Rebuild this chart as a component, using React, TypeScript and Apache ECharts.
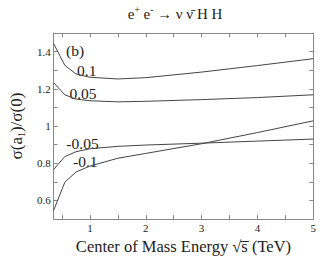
import React, { useEffect, useRef } from "react";
import * as echarts from "echarts";

const energies = [0.35, 0.55, 0.75, 1, 1.5, 2, 3, 4, 5];
const ratioP010 = [1.443, 1.326, 1.28, 1.262, 1.253, 1.26, 1.29, 1.325, 1.362];
const ratioP005 = [1.233, 1.168, 1.145, 1.136, 1.13, 1.133, 1.142, 1.153, 1.168];
const ratioM005 = [0.767, 0.836, 0.862, 0.878, 0.891, 0.898, 0.908, 0.919, 0.93];
const ratioM010 = [0.547, 0.698, 0.753, 0.785, 0.827, 0.853, 0.905, 0.965, 1.028];
const curveLabels = ["0.1", "0.05", "-0.05", "-0.1", "(b)"];
const labelCoords: [number, number][] = [
  [0.942, 1.296],
  [0.875, 1.175],
  [0.867, 0.905],
  [0.917, 0.807],
  [0.733, 1.407],
];
const yLabelValues = [0.6, 0.8, 1, 1.2, 1.4];
const xLabelValues = [1, 2, 3, 4, 5];

const SERIF = "Liberation Serif";
const LINE = "#444";
const FRAME = "#888";
const TEXT = "#222";

export default function App() {
  const ref = useRef<HTMLDivElement>(null);
  useEffect(() => {
    if (!ref.current) return;
    const chart = echarts.init(ref.current, undefined, { renderer: "svg" });
    const allSeries = [ratioP010, ratioP005, ratioM005, ratioM010];
    const series: any[] = allSeries.map((vals) => ({
      type: "line",
      data: energies.map((e, j) => [e, vals[j]]),
      showSymbol: false,
      symbol: "none",
      lineStyle: { color: LINE, width: 1 },
      silent: true,
    }));
    const xBase = {
      type: "value",
      min: 0.35,
      max: 5,
      minInterval: 0.5,
      maxInterval: 0.5,
      splitLine: { show: false },
      axisLine: { show: true, onZero: false, lineStyle: { color: FRAME, width: 1 } },
      axisTick: { show: true, inside: true, length: 4, lineStyle: { color: FRAME } },
    };
    const yBase = {
      type: "value",
      min: 0.5,
      max: 1.5,
      interval: 0.1,
      splitLine: { show: false },
      axisLine: { show: true, onZero: false, lineStyle: { color: FRAME, width: 1 } },
      axisTick: { show: true, inside: true, length: 4, lineStyle: { color: FRAME } },
    };
    chart.setOption({
      animation: false,
      textStyle: { fontFamily: SERIF },
      grid: { left: 36, right: 4, top: 33, bottom: 33, containLabel: false },
      xAxis: [
        {
          ...xBase,
          position: "bottom",
          name: "Center of Mass Energy \u221as\u0305 (TeV)",
          nameLocation: "middle",
          nameGap: 13,
          nameTextStyle: { fontFamily: SERIF, fontSize: 16.5, color: TEXT },
          axisLabel: {
            show: true,
            margin: 3,
            fontFamily: SERIF,
            fontSize: 11,
            color: TEXT,
            formatter: (v: number) => {
              const r = parseFloat(v.toFixed(2));
              return xLabelValues.includes(r) ? String(r) : "";
            },
          },
        },
        { ...xBase, position: "top", axisLabel: { show: false } },
      ],
      yAxis: [
        {
          ...yBase,
          position: "left",
          name: "{a|\u03c3(a}{s|1}{a|)/\u03c3(0)}",
          nameLocation: "middle",
          nameGap: 23,
          nameTextStyle: {
            fontFamily: SERIF,
            fontSize: 17,
            color: TEXT,
            rich: {
              a: { fontFamily: SERIF, fontSize: 17, color: TEXT },
              s: { fontFamily: SERIF, fontSize: 10, color: TEXT, padding: [9, 0, 0, 0] },
            },
          },
          axisLabel: {
            show: true,
            margin: 3,
            fontFamily: SERIF,
            fontSize: 11,
            color: TEXT,
            formatter: (v: number) => {
              const r = parseFloat(v.toFixed(2));
              return yLabelValues.includes(r) ? String(r) : "";
            },
          },
        },
        { ...yBase, position: "right", axisLabel: { show: false } },
      ],
      series,
    });
    const labelGraphics = curveLabels.map((t, i) => {
      const p = chart.convertToPixel({ gridIndex: 0 }, labelCoords[i]) as number[];
      return {
        type: "text",
        x: p[0],
        y: p[1],
        silent: true,
        style: {
          text: t,
          align: "center",
          verticalAlign: "middle",
          fontFamily: SERIF,
          fontSize: 15.5,
          fill: TEXT,
        },
      };
    });
    chart.setOption({
      graphic: [
        {
          type: "text",
          x: 175,
          y: 14,
          silent: true,
          style: {
            text: "{a|e}{p|+}{a| e}{p|-}{a| \u2192 \u03bd \u03bd\u0304 H H}",
            align: "center",
            verticalAlign: "middle",
            fill: TEXT,
            fontFamily: SERIF,
            rich: {
              a: { fontFamily: SERIF, fontSize: 15, fill: TEXT },
              p: { fontFamily: SERIF, fontSize: 9.5, fill: TEXT, padding: [0, 0, 8, 0] },
            },
          },
        },
        ...labelGraphics,
      ],
    });
    return () => chart.dispose();
  }, []);
  return (
    <div
      ref={ref}
      style={{ position: "fixed", left: 0, top: 0, width: 319, height: 260, background: "#fff" }}
    />
  );
}
